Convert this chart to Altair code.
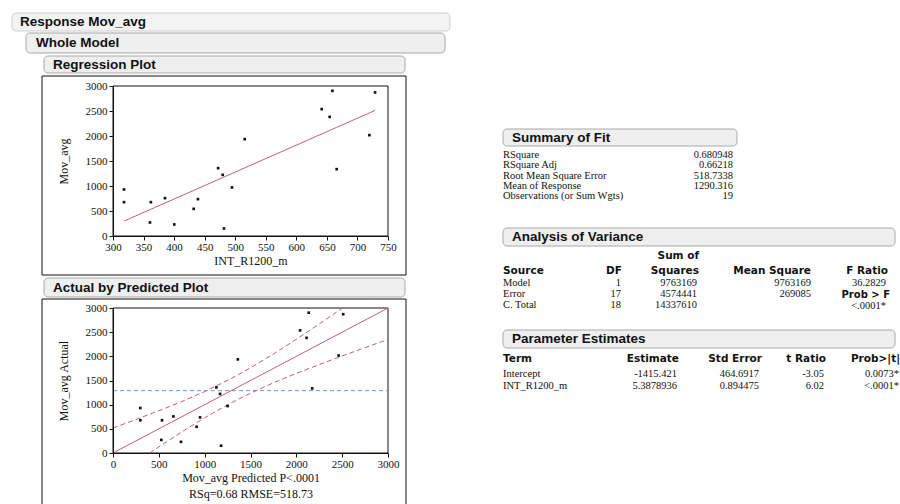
import altair as alt
import pandas as pd

INT_R1200_M = [318, 318, 360.5, 362, 385, 400.3, 432, 439, 472, 479.5, 481.6,
               494.7, 515.5, 641.5, 659, 654.6, 666, 719.5, 728.8]
MOV_AVG = [931, 677, 271, 677, 757, 231, 543, 737, 1357, 1223, 151,
           971, 1937, 2537, 2903, 2383, 1337, 2017, 2871]

INTERCEPT = -1415.421
SLOPE = 5.3878936
MEAN_RESPONSE = 1290.316
DIAG_LIMITS = [0, 3000]

# confidence curves of the Actual by Predicted plot
UPPER_PRED = [0, 250, 500, 750, 1000, 1290, 1500, 1750, 2000, 2250, 2505]
UPPER_ACT = [517, 693, 874, 1064, 1271, 1541, 1762, 2048, 2353, 2670, 3000]
LOWER_PRED = [400, 500, 750, 1000, 1290, 1500, 1750, 2000, 2250, 2500, 2750, 3000]
LOWER_ACT = [0, 126, 436, 729, 1039, 1238, 1452, 1647, 1830, 2008, 2180, 2351]

X1_TICKS = [300, 350, 400, 450, 500, 550, 600, 650, 700, 750]
Y_TICKS = [0, 500, 1000, 1500, 2000, 2500, 3000]
X2_TICKS = [0, 500, 1000, 1500, 2000, 2500, 3000]

FIT_LABELS = ["RSquare", "RSquare Adj", "Root Mean Square Error",
              "Mean of Response", "Observations (or Sum Wgts)"]
FIT_VALUES = ["0.680948", "0.66218", "518.7338", "1290.316", "19"]

ANOVA_SOURCE = ["Model", "Error", "C. Total"]
ANOVA_DF = ["1", "17", "18"]
ANOVA_SS = ["9763169", "4574441", "14337610"]
ANOVA_MS = ["9763169", "269085", ""]
ANOVA_F = ["36.2829", "", "<.0001*"]

PE_TERM = ["Intercept", "INT_R1200_m"]
PE_EST = ["-1415.421", "5.3878936"]
PE_SE = ["464.6917", "0.894475"]
PE_T = ["-3.05", "6.02"]
PE_P = ["0.0073*", "<.0001*"]

# ---------------- style ----------------
ROSE = "#c45c80"
BLUE = "#62a2c8"
INK = "#111111"
SERIF = "Liberation Serif"
SANS = "Liberation Sans"
HSANS = "DejaVu Sans"
HDR_FILL = "#efefef"
HDR_STROKE = "#a9a9a9"
BODY = 10.5
HB = 10.5

ONE = pd.DataFrame({"k": [0]})
pts = pd.DataFrame({"x": INT_R1200_M, "y": MOV_AVG})
fit = pd.DataFrame({"label": FIT_LABELS, "value": FIT_VALUES})
anova = pd.DataFrame({"src": ANOVA_SOURCE, "df": ANOVA_DF, "ss": ANOVA_SS,
                      "ms": ANOVA_MS, "f": ANOVA_F})
pe = pd.DataFrame({"term": PE_TERM, "est": PE_EST, "se": PE_SE, "t": PE_T, "p": PE_P})
upper = pd.DataFrame({"p": UPPER_PRED, "a": UPPER_ACT})
lower = pd.DataFrame({"p": LOWER_PRED, "a": LOWER_ACT})
diag = pd.DataFrame({"p": DIAG_LIMITS})


def sc(dom, rng):
    return alt.Scale(domain=dom, range=rng, nice=False, zero=False)


P1X = ([300, 750], [113, 388])
P1Y = ([0, 3000], [236, 86])
P2X = ([0, 3000], [113, 388])
P2Y = ([0, 3000], [453, 308])
H = 504


def axis_x(title, offset, values):
    return alt.Axis(orient="bottom", offset=offset, values=values, format="d", title=title,
                    grid=False, domainColor=INK, domainWidth=1, tickColor=INK, tickSize=4,
                    tickWidth=1, labelFont=SERIF, labelFontSize=11, labelColor=INK,
                    labelPadding=1, labelOverlap=False, labelFlush=False, titleFont=SERIF,
                    titleFontSize=12, titleFontWeight="normal", titleColor=INK,
                    titlePadding=3, titleLineHeight=16, zindex=1)


def axis_y(title, values):
    return alt.Axis(orient="left", offset=-113, values=values, format="d", title=title,
                    grid=False, domainColor=INK, domainWidth=1, tickColor=INK, tickSize=4,
                    tickWidth=1, labelFont=SERIF, labelFontSize=11, labelColor=INK,
                    labelPadding=2, labelOverlap=False, labelFlush=False, titleFont=SERIF,
                    titleFontSize=12, titleFontWeight="normal", titleColor=INK,
                    titlePadding=15, zindex=1)


def box(x1, x2, y1, y2, fill=HDR_FILL, stroke=HDR_STROKE, radius=4, fill_op=1):
    return alt.Chart(ONE).mark_rect(fill=fill, fillOpacity=fill_op, stroke=stroke,
                                    strokeWidth=1, cornerRadius=radius).encode(
        x=alt.value(x1), x2=alt.value(x2), y=alt.value(y1), y2=alt.value(y2))


def label(s, x, y, align="left", font=SANS, size=13.5, weight="bold"):
    return alt.Chart(ONE).mark_text(text=s, align=align, baseline="middle", font=font,
                                    fontSize=size, fontWeight=weight, color=INK).encode(
        x=alt.value(x), y=alt.value(y))


def column(df, yfield, field, x, y0, y1, align="right", font=SERIF, size=BODY):
    return alt.Chart(df).mark_text(align=align, baseline="middle", font=font,
                                   fontSize=size, color=INK).encode(
        x=alt.value(x),
        y=alt.Y(f"{yfield}:N", sort=None,
                scale=alt.Scale(type="point", range=[y0, y1], padding=0), axis=None),
        text=alt.Text(f"{field}:N"))


def plot_frame(px, py):
    return alt.Chart(ONE).mark_rect(fillOpacity=0, stroke=INK, strokeWidth=1).encode(
        x=alt.XDatum(datum=px[0][0], type="quantitative", scale=sc(*px), axis=None),
        x2=alt.X2Datum(datum=px[0][1]),
        y=alt.YDatum(datum=py[0][0], type="quantitative", scale=sc(*py), axis=None),
        y2=alt.Y2Datum(datum=py[0][1]))


def th(s, x, y, align="right", size=HB):
    return label(s, x, y, align=align, font=HSANS, size=size)


layers = []

# ---- left column decorations ----
layers += [
    box(12, 450, 13, 31, fill="#f3f3f3", stroke="#cfcfcf"),
    label("Response Mov_avg", 20, 22),
    box(26, 445, 33, 53),
    label("Whole Model", 36, 43),
    box(44, 405, 56, 73),
    label("Regression Plot", 53, 65),
    box(42, 406, 76, 275, fill="white", stroke=INK, radius=0, fill_op=0),
    box(44, 405, 278, 297),
    label("Actual by Predicted Plot", 53, 288),
    box(42, 406, 299, 520, fill="white", stroke=INK, radius=0, fill_op=0),
]

# ---- regression plot ----
layers += [
    plot_frame(P1X, P1Y),
    alt.Chart(pts).transform_calculate(fit=f"{INTERCEPT} + {SLOPE} * datum.x")
    .mark_line(color=ROSE, strokeWidth=1).encode(
        x=alt.X("x:Q", scale=sc(*P1X), axis=None),
        y=alt.Y("fit:Q", scale=sc(*P1Y), axis=None)),
    alt.Chart(pts).mark_square(size=7, color=INK, opacity=1).encode(
        x=alt.X("x:Q", scale=sc(*P1X), axis=axis_x("INT_R1200_m", P1Y[1][0] - H, X1_TICKS)),
        y=alt.Y("y:Q", scale=sc(*P1Y), axis=axis_y("Mov_avg", Y_TICKS))),
]

# ---- actual by predicted plot ----
layers += [
    plot_frame(P2X, P2Y),
    alt.Chart(ONE).mark_rule(color=BLUE, strokeDash=[4, 3], strokeWidth=1).encode(
        x=alt.XDatum(datum=DIAG_LIMITS[0], type="quantitative", scale=sc(*P2X), axis=None),
        x2=alt.X2Datum(datum=DIAG_LIMITS[1]),
        y=alt.YDatum(datum=MEAN_RESPONSE, type="quantitative", scale=sc(*P2Y), axis=None)),
    alt.Chart(upper).mark_line(color=ROSE, strokeDash=[5, 3], strokeWidth=1).encode(
        x=alt.X("p:Q", scale=sc(*P2X), axis=None),
        y=alt.Y("a:Q", scale=sc(*P2Y), axis=None)),
    alt.Chart(lower).mark_line(color=ROSE, strokeDash=[5, 3], strokeWidth=1).encode(
        x=alt.X("p:Q", scale=sc(*P2X), axis=None),
        y=alt.Y("a:Q", scale=sc(*P2Y), axis=None)),
    alt.Chart(diag).mark_line(color=ROSE, strokeWidth=1).encode(
        x=alt.X("p:Q", scale=sc(*P2X), axis=None),
        y=alt.Y("p:Q", scale=sc(*P2Y), axis=None)),
    alt.Chart(pts).transform_calculate(pred=f"{INTERCEPT} + {SLOPE} * datum.x")
    .mark_square(size=7, color=INK, opacity=1).encode(
        x=alt.X("pred:Q", scale=sc(*P2X),
                axis=axis_x(["Mov_avg Predicted P<.0001", "RSq=0.68 RMSE=518.73"],
                            P2Y[1][0] - H, X2_TICKS)),
        y=alt.Y("y:Q", scale=sc(*P2Y), axis=axis_y("Mov_avg Actual", Y_TICKS))),
]

# ---- right column: Summary of Fit ----
layers += [
    box(503, 737, 129, 146),
    label("Summary of Fit", 512, 138),
    column(fit, "label", "label", 503, 155, 196, align="left"),
    column(fit, "label", "value", 733, 155, 196),
]

# ---- Analysis of Variance ----
layers += [
    box(503, 895, 228, 246),
    label("Analysis of Variance", 512, 237),
    th("Sum of", 699, 256),
    th("Source", 503, 271, align="left"),
    th("DF", 622, 271),
    th("Squares", 699, 271),
    th("Mean Square", 811, 271),
    th("F Ratio", 888, 271),
    th("Prob > F", 890, 294.5, size=10),
    column(anova, "src", "src", 503, 283, 305, align="left"),
    column(anova, "src", "df", 621, 283, 305),
    column(anova, "src", "ss", 697, 283, 305),
    column(anova, "src", "ms", 811, 283, 305),
    column(anova, "src", "f", 886, 282.5, 305.5),
]

# ---- Parameter Estimates ----
layers += [
    box(503, 895, 330, 348),
    label("Parameter Estimates", 512, 339),
    th("Term", 503, 359, align="left"),
    th("Estimate", 679, 359),
    th("Std Error", 762, 359),
    th("t Ratio", 826, 359),
    th("Prob>|t|", 900, 359),
    column(pe, "term", "term", 503, 374, 386, align="left"),
    column(pe, "term", "est", 677, 374, 386),
    column(pe, "term", "se", 759, 374, 386),
    column(pe, "term", "t", 824, 374, 386),
    column(pe, "term", "p", 899, 374, 386),
]

chart = alt.layer(*layers).resolve_scale(
    x="independent", y="independent"
).properties(
    width=900, height=504, padding=0,
    autosize=alt.AutoSizeParams(type="none"), background="white"
).configure_view(stroke=None)

chart.save("out.html", embed_options={"renderer": "svg", "actions": False})
